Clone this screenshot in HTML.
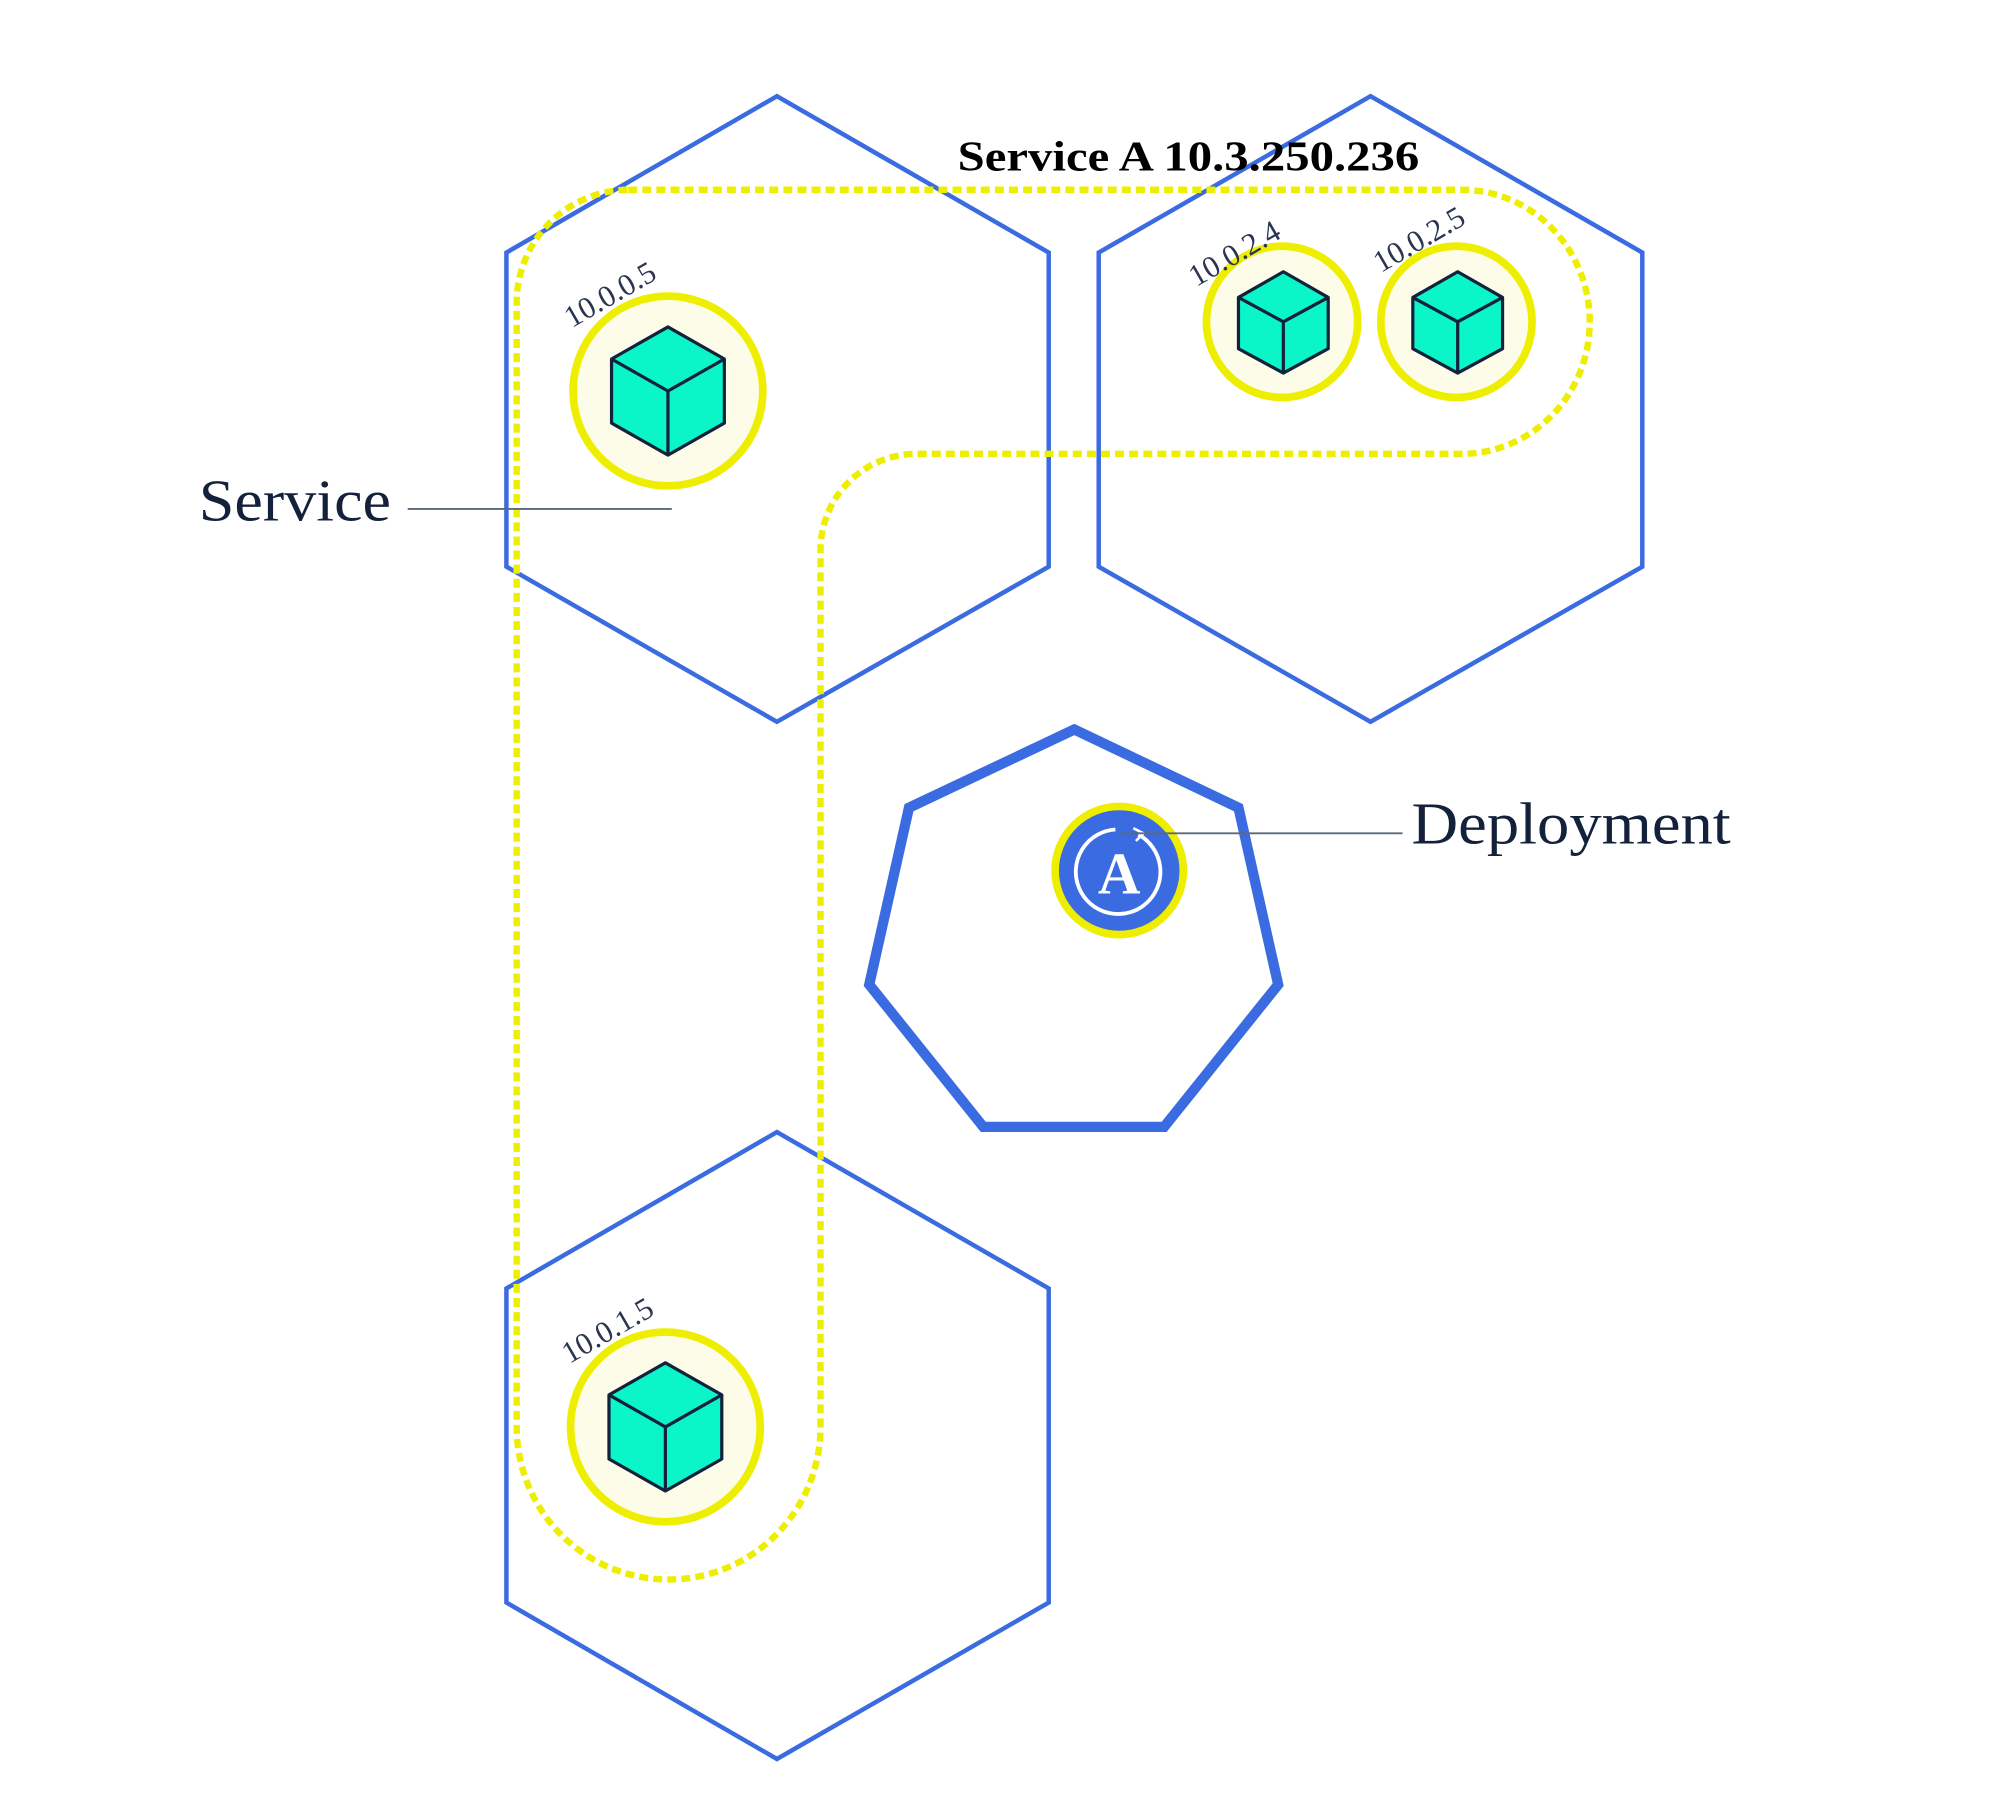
<!DOCTYPE html>
<html><head><meta charset="utf-8"><style>
html,body{margin:0;padding:0;background:#fff;}
svg{display:block;}
</style></head><body>
<svg width="2000" height="1810" viewBox="0 0 1560 1411.8" preserveAspectRatio="none" xmlns="http://www.w3.org/2000/svg">
<rect width="1560" height="1412" fill="#fff"/>
<g fill="none" stroke="#3a6be0" stroke-width="3.5" stroke-linejoin="miter">
<polygon points="606,75 818,197 818,442 606,563 395,442 395,197"/>
<polygon points="1069,75 1281,197 1281,442 1069,563 857,442 857,197"/>
<polygon points="606,883 818,1005 818,1250 606,1372 395,1250 395,1005"/>
</g>
<polygon points="838,569 966,630 997,768 908,879 767,879 678,768 709,630" fill="none" stroke="#3a6be0" stroke-width="8" stroke-linejoin="miter"/>
<path d="M490,148 H1140 A100,103 0 0 1 1140,354 H715 A75,75 0 0 0 640,429 V1113 A118.5,119 0 0 1 403,1113 V236 A88,88 0 0 1 490,148 Z" fill="none" stroke="#eeee00" stroke-width="5" stroke-dasharray="7 4"/>
<g stroke="#eeee00" stroke-width="6" fill="#fcfce9">
<circle cx="521" cy="305" r="74"/>
<circle cx="1000" cy="251" r="59"/>
<circle cx="1136" cy="251" r="59"/>
<circle cx="519" cy="1113" r="74"/>
</g>
<g fill="#0af5c8" stroke="#13223a" stroke-width="2.5" stroke-linejoin="round">
<path d="M521,255 L565,280 L565,330 L521,355 L477,330 L477,280 Z"/>
<path d="M519,1063 L563,1088 L563,1138 L519,1163 L475,1138 L475,1088 Z"/>
<path d="M1001,212 L1036,232 L1036,272 L1001,291 L966,272 L966,232 Z"/>
<path d="M1137,212 L1172,232 L1172,272 L1137,291 L1102,272 L1102,232 Z"/>
</g>
<g fill="none" stroke="#13223a" stroke-width="2.5" stroke-linejoin="round">
<path d="M477,280 L521,305 L565,280 M521,305 V355"/>
<path d="M475,1088 L519,1113 L563,1088 M519,1113 V1163"/>
<path d="M966,232 L1001,251 L1036,232 M1001,251 V291"/>
<path d="M1102,232 L1137,251 L1172,232 M1137,251 V291"/>
</g>
<g font-family="Liberation Serif, serif" font-size="24" fill="#2a3550">
<text transform="translate(446,256) rotate(-30)">10.0.0.5</text>
<text transform="translate(933,224) rotate(-30)">10.0.2.4</text>
<text transform="translate(1077,213) rotate(-30)">10.0.2.5</text>
<text transform="translate(444,1064) rotate(-30)">10.0.1.5</text>
</g>
<circle cx="873" cy="679" r="50" fill="#3a6be0" stroke="#eeee00" stroke-width="6"/>
<path d="M888,651 A33,33 0 1 1 870,647" fill="none" stroke="#fff" stroke-width="3"/>
<path d="M884,646 L892,650 L886,656" fill="none" stroke="#fff" stroke-width="2"/>
<text x="873" y="697" text-anchor="middle" font-family="Liberation Serif, serif" font-weight="bold" font-size="46" fill="#fff">A</text>
<line x1="318" y1="397" x2="524" y2="397" stroke="#5a6a7a" stroke-width="1.5"/>
<line x1="873" y1="650" x2="1094" y2="650" stroke="#5a6a7a" stroke-width="1.5"/>
<text x="155" y="406" font-family="Liberation Serif, serif" font-size="46" fill="#13223a" textLength="150" lengthAdjust="spacingAndGlyphs">Service</text>
<text x="1101" y="658" font-family="Liberation Serif, serif" font-size="46" fill="#13223a" textLength="249" lengthAdjust="spacingAndGlyphs">Deployment</text>
<text x="747" y="133" font-family="Liberation Serif, serif" font-weight="bold" font-size="33" fill="#000" textLength="360" lengthAdjust="spacingAndGlyphs">Service A 10.3.250.236</text>
</svg>
</body></html>
